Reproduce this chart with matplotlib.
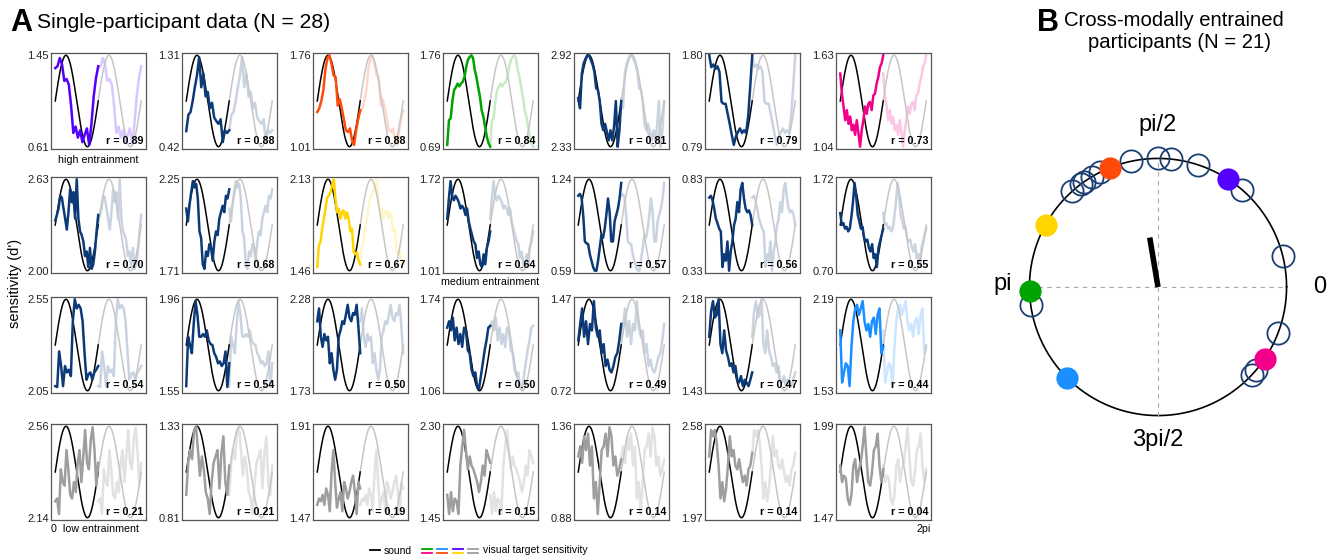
import numpy as np
import matplotlib.pyplot as plt
from matplotlib.colors import to_rgb

plt.rcParams['font.family'] = ['Liberation Sans', 'DejaVu Sans']

W, H = 1339, 556

# ---- panel A data (row by row, 7 panels per row) ----
lows = [0.61, 0.42, 1.01, 0.69, 2.33, 0.79, 1.04,
        2.00, 1.71, 1.46, 1.01, 0.59, 0.33, 0.70,
        2.05, 1.55, 1.73, 1.06, 0.72, 1.43, 1.53,
        2.14, 0.81, 1.47, 1.45, 0.88, 1.97, 1.47]
highs = [1.45, 1.31, 1.76, 1.76, 2.92, 1.80, 1.63,
         2.63, 2.25, 2.13, 1.72, 1.24, 0.83, 1.72,
         2.55, 1.96, 2.28, 1.74, 1.47, 2.18, 2.19,
         2.56, 1.33, 1.91, 2.30, 1.36, 2.58, 1.99]
rvals = [0.89, 0.88, 0.88, 0.84, 0.81, 0.79, 0.73,
         0.70, 0.68, 0.67, 0.64, 0.57, 0.56, 0.55,
         0.54, 0.54, 0.50, 0.50, 0.49, 0.47, 0.44,
         0.21, 0.21, 0.19, 0.15, 0.14, 0.14, 0.04]
kinds = ['purple', 'navy', 'orange', 'green', 'navy', 'navy', 'pink',
         'navy', 'navy', 'yellow', 'navy', 'navy', 'navy', 'navy',
         'navy', 'navy', 'navy', 'navy', 'navy', 'navy', 'blue',
         'grey', 'grey', 'grey', 'grey', 'grey', 'grey', 'grey']

# sensitivity over one sound cycle, as fraction of each panel's range
profiles = [
    [0.86, 0.88, 0.97, 0.9, 0.72, 0.74, 0.68, 0.45, 0.15, 0.22, 0.1, 0.18, 0.05, 0.13, 0.2, 0.02, 0.25, 0.55, 0.75, 0.88],
    [0.17, 0.35, 0.38, 0.5, 0.65, 0.78, 0.98, 0.65, 0.8, 0.55, 0.6, 0.42, 0.48, 0.32, 0.28, 0.25, 0.3, 0.05, 0.18, 0.15, 0.18],
    [0.38, 0.42, 0.5, 0.62, 0.85, 0.97, 1.0, 0.9, 0.78, 0.76, 0.45, 0.52, 0.42, 0.3, 0.18, 0.16, 0.2, 0.07, 0.02, 0.18, 0.3, 0.4],
    [0.02, 0.29, 0.31, 0.5, 0.62, 0.65, 0.69, 0.66, 0.69, 0.71, 0.76, 0.87, 0.95, 0.98, 1.0, 0.97, 0.84, 0.76, 0.65, 0.55, 0.4, 0.33, 0.22, 0.11, 0.04, 0.0],
    [0.53, 0.42, 0.8, 0.91, 0.96, 1.0, 1.0, 0.95, 0.9, 0.82, 0.64, 0.62, 0.5, 0.25, 0.18, 0.25, 0.16, 0.07, 0.18, 0.07, 0.22, 0.5, 0.0, 0.18, 0.5],
    [1.0, 0.87, 0.9, 0.85, 0.88, 0.82, 0.49, 0.47, 0.47, 0.36, 0.25, 0.13, 0.02, 0.11, 0.16, 0.2, 0.15, 0.18, 0.15, 0.33, 0.65, 1.0],
    [0.8, 0.58, 0.44, 0.29, 0.4, 0.25, 0.33, 0.18, 0.24, 0.13, 0.29, 0.15, 0.0, 0.18, 0.29, 0.44, 0.36, 0.47, 0.49, 0.4, 0.56, 0.58, 0.69, 0.76, 0.87, 0.91, 1.0],
    [0.55, 0.61, 0.68, 0.82, 0.8, 0.68, 0.57, 0.45, 0.64, 0.89, 0.75, 0.86, 0.57, 1.0, 0.57, 0.43, 0.39, 0.32, 0.16, 0.21, 0.04, 0.25, 0.02, 0.07, 0.21, 0.43, 0.61],
    [0.68, 0.54, 0.72, 0.86, 0.98, 0.91, 0.95, 0.79, 0.43, 0.36, 0.07, 0.02, 0.21, 0.16, 0.29, 0.25, 0.11, 0.32, 0.43, 0.39, 0.57, 0.64, 0.71, 0.64, 0.82, 0.79, 0.89],
    [0.04, 0.27, 0.32, 0.46, 0.57, 0.68, 0.8, 0.82, 0.86, 0.93, 1.0, 0.79, 0.64, 0.68, 0.57, 0.64, 0.66, 0.57, 0.64, 0.57, 0.43, 0.46, 0.21, 0.18, 0.2, 0.11, 0.07],
    [0.57, 0.79, 0.98, 0.82, 0.77, 0.82, 0.79, 0.75, 0.68, 0.71, 0.68, 0.61, 0.68, 0.54, 0.46, 0.39, 0.32, 0.29, 0.14, 0.21, 0.07, 0.04, 0.18, 0.07, 0.25, 0.32, 0.43],
    [0.82, 0.84, 0.8, 0.61, 0.32, 0.3, 0.29, 0.18, 0.11, 0.04, 0.0, 0.0, 0.11, 0.25, 0.39, 0.36, 0.46, 0.61, 0.79, 0.64, 0.32, 0.32, 0.54, 0.61, 0.68, 0.79, 0.96],
    [0.8, 0.82, 0.77, 0.68, 0.57, 0.52, 0.46, 0.43, 0.04, 0.18, 0.11, 0.32, 0.0, 0.21, 0.32, 0.5, 0.57, 0.75, 0.64, 0.89, 0.96, 0.79, 0.68, 0.64, 0.66, 0.61, 0.5],
    [0.63, 0.5, 0.52, 0.46, 0.48, 0.43, 0.46, 0.59, 0.75, 0.96, 0.82, 0.61, 0.54, 0.46, 0.48, 0.36, 0.32, 0.34, 0.25, 0.21, 0.29, 0.14, 0.18, 0.04, 0.25, 0.32, 0.39, 0.46],
    [0.05, 0.04, 0.43, 0.27, 0.05, 0.27, 0.2, 0.23, 0.16, 0.76, 1.0, 0.9, 0.94, 0.9, 0.76, 0.41, 0.12, 0.18, 0.2, 0.12, 0.2, 0.23, 0.27],
    [0.05, 0.59, 0.5, 0.41, 0.73, 0.98, 0.83, 0.59, 0.59, 0.62, 0.59, 0.66, 0.55, 0.51, 0.5, 0.41, 0.37, 0.3, 0.32, 0.27, 0.3, 0.43, 0.04, 0.3],
    [0.76, 0.9, 0.59, 0.48, 0.62, 0.55, 0.59, 0.3, 0.41, 0.23, 0.12, 0.23, 0.59, 0.66, 0.76, 0.73, 0.83, 0.94, 0.8, 0.76, 0.85, 0.83, 0.94, 0.69, 0.41],
    [0.69, 0.76, 0.66, 0.8, 0.55, 0.69, 0.51, 0.62, 0.48, 0.69, 0.66, 0.44, 0.41, 0.23, 0.16, 0.2, 0.05, 0.02, 0.16, 0.3, 0.44, 0.55, 0.69, 0.71],
    [0.55, 0.73, 0.9, 0.59, 0.76, 0.51, 0.73, 0.66, 0.98, 0.69, 0.59, 0.66, 0.41, 0.51, 0.27, 0.34, 0.23, 0.2, 0.27, 0.37, 0.41, 0.55, 0.73],
    [0.59, 0.87, 0.98, 0.8, 0.83, 1.0, 0.51, 0.41, 0.66, 0.44, 0.37, 0.27, 0.3, 0.2, 0.27, 0.12, 0.09, 0.16, 0.05, 0.12, 0.09, 0.05, 0.12, 0.2],
    [0.66, 0.09, 0.2, 0.3, 0.27, 0.05, 0.48, 0.76, 0.9, 0.94, 0.83, 0.9, 0.98, 0.76, 0.66, 0.73, 0.59, 0.76, 0.8, 0.62, 0.83, 0.9, 0.41, 0.48],
    [0.18, 0.21, 0.04, 0.53, 0.39, 0.35, 0.74, 0.53, 0.25, 0.21, 0.39, 0.28, 0.6, 0.74, 0.39, 0.67, 0.96, 0.6, 0.53, 0.85, 0.99, 0.74, 0.35, 0.6],
    [0.25, 0.6, 0.74, 0.64, 0.96, 1.0, 0.74, 0.46, 0.67, 0.53, 0.28, 0.21, 0.04, 0.39, 0.6, 0.67, 0.74, 0.32, 0.71, 0.89, 0.39, 0.25, 0.57],
    [0.14, 0.21, 0.18, 0.25, 0.14, 0.32, 0.25, 0.07, 0.5, 0.74, 0.39, 0.11, 0.21, 0.28, 0.07, 0.39, 0.32, 0.21, 0.28, 0.39, 0.46, 0.28, 0.04, 0.39, 0.32],
    [0.25, 0.04, 0.28, 0.07, 0.21, 0.18, 0.04, 0.57, 0.78, 0.96, 0.74, 0.53, 0.67, 0.57, 0.53, 0.46, 0.39, 0.28, 0.39, 0.57, 0.46, 0.74, 0.67, 0.6],
    [0.67, 0.78, 0.6, 0.89, 0.74, 0.92, 0.57, 0.78, 0.21, 0.39, 0.04, 0.39, 0.74, 0.78, 0.92, 0.67, 0.99, 0.89, 0.57, 0.67, 0.46, 0.53, 0.64],
    [0.67, 0.96, 0.89, 0.96, 0.82, 0.57, 0.21, 0.39, 0.18, 0.32, 0.57, 0.89, 0.67, 0.74, 0.57, 0.53, 0.64, 0.5, 0.39, 0.46, 0.35, 0.53, 0.57, 0.71],
    [0.57, 0.39, 0.46, 0.43, 0.21, 0.14, 0.25, 0.57, 0.64, 0.39, 0.53, 0.6, 0.78, 0.99, 0.67, 0.39, 0.35, 0.5, 0.74, 0.78, 0.92, 0.57, 0.39, 0.53],
]

# ---- panel B data: preferred phase (degrees) ----
filled_deg = [57, 112, 151, 182, 225, 326]
filled_kind = ['purple', 'orange', 'yellow', 'green', 'blue', 'pink']
open_deg = [102, 90, 84, 72, 49, 117, 121, 125, 127, 132, 14, 188, 339, 320, 317]
mean_deg = 99.5
mean_len = 0.39

colors = {'purple': '#5300ff', 'navy': '#0c3a78', 'orange': '#ff4a0a',
          'green': '#00a300', 'pink': '#f2008a', 'yellow': '#ffd500',
          'blue': '#1b8fff', 'grey': '#9e9e9e'}


def light(c, keep=0.25):
    rgb = np.array(to_rgb(c))
    return tuple(1 - keep * (1 - rgb))


fig = plt.figure(figsize=(W / 100, H / 100), dpi=100)

# overlay in pixel coords for labels
ov = fig.add_axes([0, 0, 1, 1])
ov.set_xlim(0, W)
ov.set_ylim(H, 0)
ov.axis('off')

col_left = [51, 182, 313, 443, 574, 705, 836]
row_top = [53, 177, 297, 424]
pw, ph = 95, 96

for k in range(28):
    row, col = divmod(k, 7)
    ax = fig.add_axes([col_left[col] / W, 1 - (row_top[row] + ph) / H, pw / W, ph / H])
    lo, hi = lows[k], highs[k]
    rng = hi - lo
    ts = np.linspace(0, 2 * np.pi, 200)
    snd = lo + rng * (0.5 + 0.5 * np.sin(ts))
    ax.plot(ts, snd, color='black', lw=1.1, zorder=2)
    ax.plot(ts + 2 * np.pi, snd, color='#c6c6c6', lw=1.1, zorder=1)
    c = colors[kinds[k]]
    lc = light(c, 0.22 if kinds[k] != 'grey' else 0.3)
    f = np.array(profiles[k])
    xs = np.linspace(0, 2 * np.pi, len(f))
    vals = lo + rng * f
    ax.plot(xs, vals, color=c, lw=1.8, zorder=3)
    ax.plot(xs + 2 * np.pi, vals, color=lc, lw=1.8, zorder=0.5)
    ax.set_xlim(-0.62, 4 * np.pi + 0.7)
    ax.set_ylim(lo - 0.025 * rng, hi + 0.025 * rng)
    ax.set_xticks([])
    ax.set_yticks([lo, hi])
    ax.set_yticklabels(['%.2f' % lo, '%.2f' % hi])
    ax.tick_params(length=0, labelsize=8, pad=1.5, labelcolor='#222222')
    for s in ax.spines.values():
        s.set_color('#555555')
        s.set_linewidth(0.9)
    ax.text(0.97, 0.03, 'r = %.2f' % rvals[k], transform=ax.transAxes,
            ha='right', va='bottom', fontsize=7.7, fontweight='bold')

# panel A labels
ov.text(10, 23, 'A', fontsize=22, fontweight='bold', va='center', ha='left')
ov.text(37, 22, 'Single-participant data (N = 28)', fontsize=15.2, va='center')
ov.text(15, 283, "sensitivity (d')", fontsize=10.5, rotation=90, ha='center', va='center')
ov.text(98, 160, 'high entrainment', fontsize=7.7, ha='center', va='center')
ov.text(490, 282, 'medium entrainment', fontsize=7.7, ha='center', va='center')
ov.text(51, 529, '0  low entrainment', fontsize=7.7, ha='left', va='center')
ov.text(931, 529, '2pi', fontsize=7.7, ha='right', va='center')

# legend
ov.plot([370, 380], [550, 550], color='black', lw=1.3)
ov.text(384, 551, 'sound', fontsize=7.5, va='center')
pairs = [('green', 'pink'), ('blue', 'orange'), ('purple', 'yellow'), ('grey', 'grey')]
for i, (a, b) in enumerate(pairs):
    x0 = 422 + 15.3 * i
    ov.plot([x0, x0 + 10], [548.5, 548.5], color=colors[a], lw=1.3)
    ov.plot([x0, x0 + 10], [552.5, 552.5], color=colors[b], lw=1.3)
ov.text(483, 550, 'visual target sensitivity', fontsize=7.5, va='center')

# panel B
ov.text(1037, 23, 'B', fontsize=22, fontweight='bold', va='center', ha='left')
ov.text(1174, 20, 'Cross-modally entrained', fontsize=14.6, ha='center', va='center')
ov.text(1180, 43, 'participants (N = 21)', fontsize=14.6, ha='center', va='center')

bx = fig.add_axes([978 / W, 1 - (287 + 180) / H, 360 / W, 360 / H])
bx.set_xlim(-1.4, 1.4)
bx.set_ylim(-1.4, 1.4)
bx.axis('off')
th = np.linspace(0, 2 * np.pi, 400)
bx.plot(np.cos(th), np.sin(th), color='black', lw=1.2)
bx.plot([-1, 1], [0, 0], color='#aaaaaa', lw=0.8, ls=(0, (4, 4)))
bx.plot([0, 0], [-1, 1], color='#aaaaaa', lw=0.8, ls=(0, (4, 4)))
oa = np.deg2rad(open_deg)
bx.plot(np.cos(oa), np.sin(oa), 'o', ms=16, mfc='none', mec='#1b3f73', mew=1.3, zorder=3)
for d, kd in zip(filled_deg, filled_kind):
    a = np.deg2rad(d)
    bx.plot(np.cos(a), np.sin(a), 'o', ms=16, color=colors[kd], mec='none', zorder=4)
ma = np.deg2rad(mean_deg)
bx.plot([0, mean_len * np.cos(ma)], [0, mean_len * np.sin(ma)], color='black', lw=4,
        solid_capstyle='butt', zorder=5)
bx.text(0, 1.26, 'pi/2', fontsize=17, ha='center', va='center')
bx.text(1.26, 0, '0', fontsize=17, ha='center', va='center')
bx.text(-1.21, 0.02, 'pi', fontsize=17, ha='center', va='center')
bx.text(0, -1.19, '3pi/2', fontsize=17, ha='center', va='center')

fig.savefig('out.png', dpi=100)
